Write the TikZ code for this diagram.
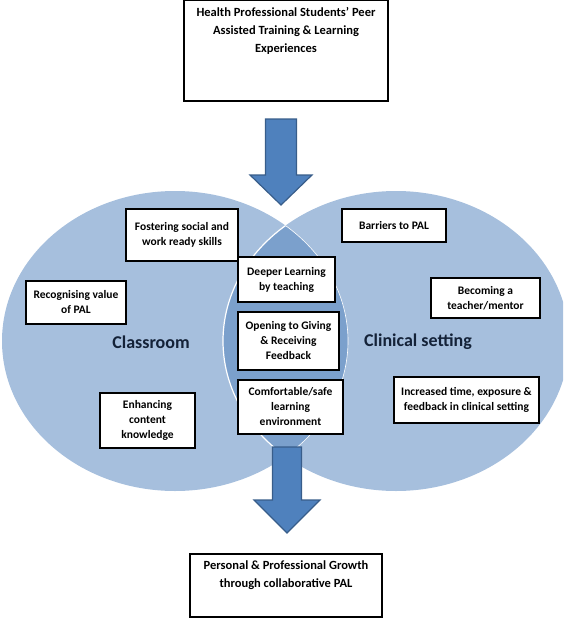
\documentclass[tikz,border=0pt]{standalone}
\usepackage{fontspec}
\setmainfont{Carlito}
\usetikzlibrary{positioning}
\definecolor{setblue}{RGB}{166,191,221}
\definecolor{lensblue}{RGB}{123,160,204}
\definecolor{arrowblue}{RGB}{79,129,189}
\definecolor{arrowedge}{RGB}{56,93,138}
\definecolor{setnavy}{RGB}{20,34,56}
\begin{document}
\begin{tikzpicture}
[x=1pt, y=-1pt,
  boxdecorate/.style={shape=rectangle,draw,line width=1.2pt,fill=white,inner sep=2pt,
    align=center,font=\fontsize{11.5}{15}\selectfont\bfseries},
  bigboxdecorate/.style={shape=rectangle,draw,line width=1.2pt,fill=white},
  bigtextdecorate/.style={align=center,inner sep=0pt,font=\fontsize{12.5}{18}\selectfont\bfseries},
  setdecorate/.style={font=\fontsize{18}{22}\selectfont\bfseries,text=setnavy},
  arrowdecorate/.style={draw=arrowedge,line width=1.2pt,fill=arrowblue,line join=miter},
  leftset/.style={x radius=173pt,y radius=150pt}]
\useasboundingbox (0,0) rectangle (563,618);
\clip (0,0) rectangle (563,618);
%% the two sets and their overlap
\fill[setblue] (175,341) ellipse [leftset];
\fill[setblue] (396,341) ellipse [leftset];
\begin{scope}
  \clip (175,341) ellipse [leftset];
  \fill[lensblue] (396,341) ellipse [leftset];
  \draw[white,line width=1.2pt] (396,341) ellipse [leftset];
\end{scope}
\begin{scope}
  \clip (396,341) ellipse [leftset];
  \draw[white,line width=0.6pt] (175,341) ellipse [leftset];
\end{scope}
%% block arrows
\foreach \cx/\ytop/\yneck/\ytip/\shaft/\head in {281/119/175/205/15.5/31,
  287/447/500/533/14.5/33}
{
  \draw[arrowdecorate] (\cx-\shaft,\ytop) -- (\cx+\shaft,\ytop) -- (\cx+\shaft,\yneck)
    -- (\cx+\head,\yneck) -- (\cx,\ytip) -- (\cx-\head,\yneck) -- (\cx-\shaft,\yneck) -- cycle;
}
%% set names
\node[setdecorate] (classroom) at (151,342) {Classroom};
\node[setdecorate] (clinical) at (418,342) {Clinical setting};
%% themes
\foreach \nodename/\x/\y/\w/\h/\words in {
  fostering/182/235/112/52/{Fostering social and\\work ready skills},
  barriers/394/225.5/104/33/{Barriers to PAL},
  deeper/286.5/279.5/97/45/{Deeper Learning\\by teaching},
  recognising/76/302.5/100/43/{Recognising value\\of PAL},
  becoming/485.5/298/109/40/{Becoming a\\teacher/mentor},
  opening/288.5/341/101/58/{Opening to Giving\\\& Receiving\\Feedback},
  comfortable/290.5/407/105/54/{Comfortable/safe\\learning\\environment},
  enhancing/147.5/420.5/95/55/{Enhancing\\content\\knowledge},
  increased/466.5/400/145/46/{Increased time, exposure \&\\feedback in clinical setting}}
{
  \node[boxdecorate, minimum width=\w pt, minimum height=\h pt] (\nodename) at (\x,\y) {\words};
}
%% start and outcome
\node[bigboxdecorate, minimum width=204pt, minimum height=100.5pt] (source) at (286,50.75) {};
\node[bigtextdecorate, below=7.5pt of source.north] (sourcetext)
  {Health Professional Students’ Peer\\Assisted Training \& Learning\\Experiences};
\node[bigboxdecorate, minimum width=192pt, minimum height=63pt] (growth) at (286,585.5) {};
\node[bigtextdecorate, below=7pt of growth.north] (growthtext)
  {Personal \& Professional Growth\\through collaborative PAL};
\end{tikzpicture}
\end{document}
